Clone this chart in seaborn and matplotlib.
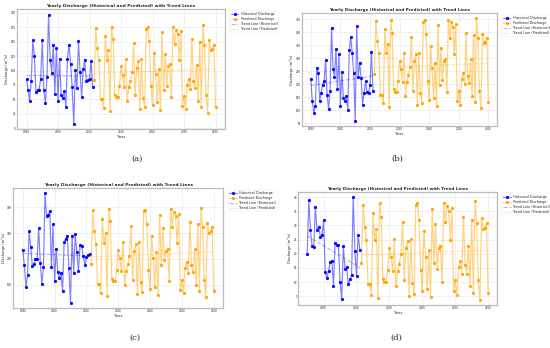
import numpy as np
import pandas as pd
import matplotlib
matplotlib.use("Agg")
import matplotlib.pyplot as plt
import seaborn as sns

# ---------------- data ----------------
hist_years_abc = list(range(1980, 2023))
hist_years_d = list(range(1990, 2023))
pred_years = list(range(2023, 2101))

hist_a = [85, 67, 47, 81, 152, 125, 62, 67, 67, 85, 152, 67, 43, 88, 197, 119, 96, 145, 60, 139,
          47, 120, 58, 52, 65, 37, 120, 145, 112, 71, 8, 101, 69, 151, 98, 54, 102, 119, 81, 84,
          86, 116, 71]
pred_a = [84, 173, 139, 119, 50, 50, 35, 160, 119, 135, 30, 176, 155, 58, 54, 54, 73, 107, 93, 71,
          120, 48, 72, 82, 97, 147, 57, 105, 117, 34, 120, 52, 36, 172, 175, 151, 73, 40, 131, 94,
          45, 103, 31, 166, 66, 128, 74, 107, 111, 55, 176, 146, 171, 164, 118, 168, 39, 56, 33, 75,
          86, 68, 154, 81, 70, 110, 48, 150, 37, 178, 145, 57, 27, 152, 135, 138, 145, 37]

hist_b = [221, 135, 90, 118, 261, 244, 136, 168, 199, 213, 295, 159, 107, 175, 416, 260, 229, 334,
          181, 316, 118, 248, 148, 137, 154, 101, 330, 380, 319, 242, 60, 424, 227, 283, 225, 121,
          168, 211, 170, 167, 198, 322, 175]
pred_b = [238, 442, 365, 319, 160, 159, 127, 410, 319, 355, 113, 447, 398, 181, 171, 171, 213, 290,
          257, 208, 321, 154, 209, 234, 266, 382, 176, 288, 315, 122, 319, 166, 130, 439, 445, 391,
          213, 140, 346, 261, 149, 281, 118, 427, 199, 338, 216, 290, 298, 171, 447, 379, 437, 421,
          316, 430, 136, 175, 122, 221, 242, 202, 397, 231, 204, 297, 155, 389, 132, 454, 378, 175,
          109, 393, 357, 364, 378, 132]

hist_c = [236, 175, 92, 137, 308, 247, 173, 179, 201, 198, 319, 185, 104, 169, 453, 365, 371, 384,
          168, 334, 114, 240, 151, 125, 146, 78, 264, 278, 290, 164, 32, 290, 146, 295, 225, 153,
          252, 249, 211, 175, 206, 215, 218]
pred_c = [180, 387, 308, 259, 104, 103, 69, 356, 262, 300, 57, 393, 345, 124, 114, 114, 157, 234,
          203, 152, 266, 99, 152, 179, 211, 327, 120, 231, 259, 66, 264, 111, 72, 385, 389, 334,
          157, 85, 289, 204, 91, 225, 62, 371, 176, 319, 197, 232, 240, 114, 393, 324, 382, 366,
          261, 375, 81, 120, 67, 165, 187, 145, 343, 175, 148, 240, 100, 334, 77, 398, 323, 120,
          52, 340, 299, 306, 323, 76]

hist_d = [20.0, 38.9, 28.5, 22.7, 22.4, 36.5, 28.3, 29.6, 26.1, 26.5, 31.8, 13.6, 11.4, 13.8, 17.1,
          17.6, 8.8, 23.9, 23.0, 23.0, 10.0, 3.9, 22.7, 14.5, 15.4, 9.3, 11.0, 12.6, 40.1, 21.1,
          12.1, 26.7, 21.4]
pred_d = [16.8, 37.4, 29.5, 24.8, 9.2, 9.2, 5.6, 34.4, 24.9, 28.7, 4.3, 38.0, 33.1, 11.1, 10.0,
          10.0, 14.4, 22.1, 18.9, 13.9, 25.1, 8.6, 13.9, 16.5, 19.8, 31.4, 10.6, 21.9, 24.6, 5.2,
          25.1, 9.6, 5.8, 37.3, 37.9, 32.1, 14.4, 6.9, 27.9, 19.0, 7.5, 21.2, 4.8, 35.8, 16.8,
          30.6, 14.6, 22.0, 22.7, 10.1, 38.0, 31.2, 36.9, 35.2, 24.8, 36.2, 6.9, 10.6, 5.4, 15.2,
          17.6, 13.0, 32.9, 16.2, 13.0, 22.7, 8.6, 32.0, 6.2, 38.7, 31.0, 10.7, 3.8, 32.5, 28.6,
          29.2, 31.0, 6.2]

panels = [
    ("(a)", hist_years_abc, hist_a, pred_a, [0.031, 0.629, 0.378, 0.345], 3.2, (0.249, 0.532)),
    ("(b)", hist_years_abc, hist_b, pred_b, [0.549, 0.638, 0.355, 0.325], 2.95, (0.722, 0.532)),
    ("(c)", hist_years_abc, hist_c, pred_c, [0.024, 0.115, 0.382, 0.345], 3.2, (0.245, 0.018)),
    ("(d)", hist_years_d, hist_d, pred_d, [0.542, 0.124, 0.362, 0.325], 2.95, (0.720, 0.018)),
]

title = "Yearly Discharge (Historical and Predicted) with Trend Lines"

sns.set_theme(style="whitegrid")
plt.rcParams["font.family"] = ["DejaVu Sans"]

fig = plt.figure(figsize=(5.5, 3.48), dpi=100)
fig.patch.set_facecolor("white")

for cap, hy, hv, pv, rect, tfs, cpos in panels:
    ax = fig.add_axes(rect)
    hist = pd.DataFrame({"Year": hy, "Discharge": hv})
    pred = pd.DataFrame({"Year": pred_years, "Discharge": pv})
    hc = np.polyfit(hist["Year"], hist["Discharge"], 1)
    pc = np.polyfit(pred["Year"], pred["Discharge"], 1)
    hist["Trend"] = np.polyval(hc, hist["Year"])
    pred["Trend"] = np.polyval(pc, pred["Year"])

    sns.lineplot(data=hist, x="Year", y="Discharge", ax=ax, color=(0, 0, 1, 0.5),
                 marker="o", markersize=2.0, markerfacecolor="blue", markeredgecolor="blue",
                 markeredgewidth=0.3, linewidth=0.85, label="Historical Discharge")
    sns.lineplot(data=pred, x="Year", y="Discharge", ax=ax, color=(1, 0.65, 0, 0.5),
                 marker="o", markersize=2.0, markerfacecolor="orange", markeredgecolor="orange",
                 markeredgewidth=0.3, linewidth=0.85, label="Predicted Discharge")
    sns.lineplot(data=hist, x="Year", y="Trend", ax=ax, color=(0, 0, 1, 0.3),
                 linestyle="--", linewidth=0.8, label="Trend Line (Historical)")
    sns.lineplot(data=pred, x="Year", y="Trend", ax=ax, color=(1, 0.65, 0, 0.3),
                 linestyle="--", linewidth=0.8, label="Trend Line (Predicted)")

    ax.set_title(title, fontsize=tfs, fontweight="bold", pad=1.5)
    ax.set_xlabel("Year", fontsize=2.8, labelpad=0.8)
    ax.set_ylabel("Discharge (m³/s)", fontsize=2.6, labelpad=1.0)
    ax.tick_params(axis="both", labelsize=2.0, pad=0.8, length=0)
    ax.set_xticks([2000, 2020, 2040, 2060, 2080, 2100] if cap == "(d)" else
                  [1980, 2000, 2020, 2040, 2060, 2080, 2100])
    for s in ax.spines.values():
        s.set_color("#bbbbbb")
        s.set_linewidth(0.9)
    ax.grid(True, color="#e6e6e6", linewidth=0.4)
    leg = ax.legend(loc="upper left", bbox_to_anchor=(1.015, 1.0), fontsize=2.4,
                    frameon=True, borderpad=0.4, handlelength=2.2, labelspacing=0.3)
    leg.get_frame().set_linewidth(0.3)
    leg.get_frame().set_edgecolor("#dddddd")
    fig.text(cpos[0], cpos[1], cap, fontsize=6, family="DejaVu Serif", ha="center",
             va="bottom")

fig.savefig("out.png", dpi=100, facecolor="white")
